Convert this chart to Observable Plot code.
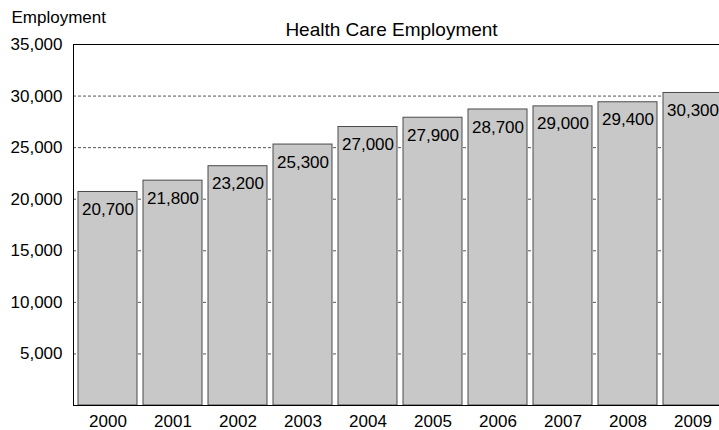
<!DOCTYPE html>
<html>
<head>
<meta charset="utf-8">
<script src="https://cdn.jsdelivr.net/npm/d3@7"></script>
<script src="https://cdn.jsdelivr.net/npm/@observablehq/plot@0.6"></script>
<style>
  html, body { margin: 0; padding: 0; background: #fff; overflow: hidden; width: 719px; height: 430px; }
  #chart { width: 719px; height: 430px; overflow: hidden; }
  #chart svg { font-family: "Liberation Sans", Arial, sans-serif; max-width: none !important; }
</style>
</head>
<body>
<div id="chart"></div>
<script>
const years = ["2000","2001","2002","2003","2004","2005","2006","2007","2008","2009"];
const employment = [20700, 21800, 23200, 25300, 27000, 27900, 28700, 29000, 29400, 30300];
const yTicks = [5000, 10000, 15000, 20000, 25000, 30000, 35000];
const gridValues = [5000, 10000, 15000, 20000, 25000, 30000];
const title = "Health Care Employment";
const yLabel = "Employment";

const data = years.map((y, i) => ({year: y, value: employment[i]}));
const fmt = d3.format(",");

const chart = Plot.plot({
  width: 726,
  height: 430,
  marginLeft: 73,
  marginRight: 0,
  marginTop: 44,
  marginBottom: 25,
  style: {fontFamily: "Liberation Sans, Arial, sans-serif", fontSize: "17px", color: "#000", background: "#fff", maxWidth: "none"},
  x: {domain: years, paddingInner: 0.1, paddingOuter: 0.05, label: null},
  y: {domain: [0, 35000], label: null},
  marks: [
    Plot.ruleY(gridValues, {stroke: "#555", strokeDasharray: "3,2", strokeWidth: 1}),
    Plot.barY(data, {x: "year", y: "value", fill: "#c8c8c8", stroke: "#4a4a4a", strokeWidth: 1, inset: 0}),
    Plot.text(data, {x: "year", y: "value", text: d => fmt(d.value), textAnchor: "start", lineAnchor: "top", dx: -26, dy: 11, fontSize: 17, fill: "#000"}),
    Plot.axisY({ticks: yTicks, tickFormat: fmt, tickSize: 0, tickPadding: 11, fontSize: 17, label: null}),
    Plot.axisX({tickSize: 0, tickPadding: 9, fontSize: 17, label: null}),
    Plot.frame({stroke: "#000", strokeWidth: 1}),
    Plot.text([title], {frameAnchor: "top", dx: -8.5, dy: -9, lineAnchor: "bottom", fontSize: 19, fill: "#000"}),
    Plot.text([yLabel], {frameAnchor: "top-left", dx: -62, dy: -22, lineAnchor: "bottom", textAnchor: "start", fontSize: 17, fill: "#000"})
  ]
});
document.getElementById("chart").appendChild(chart);
</script>
</body>
</html>
